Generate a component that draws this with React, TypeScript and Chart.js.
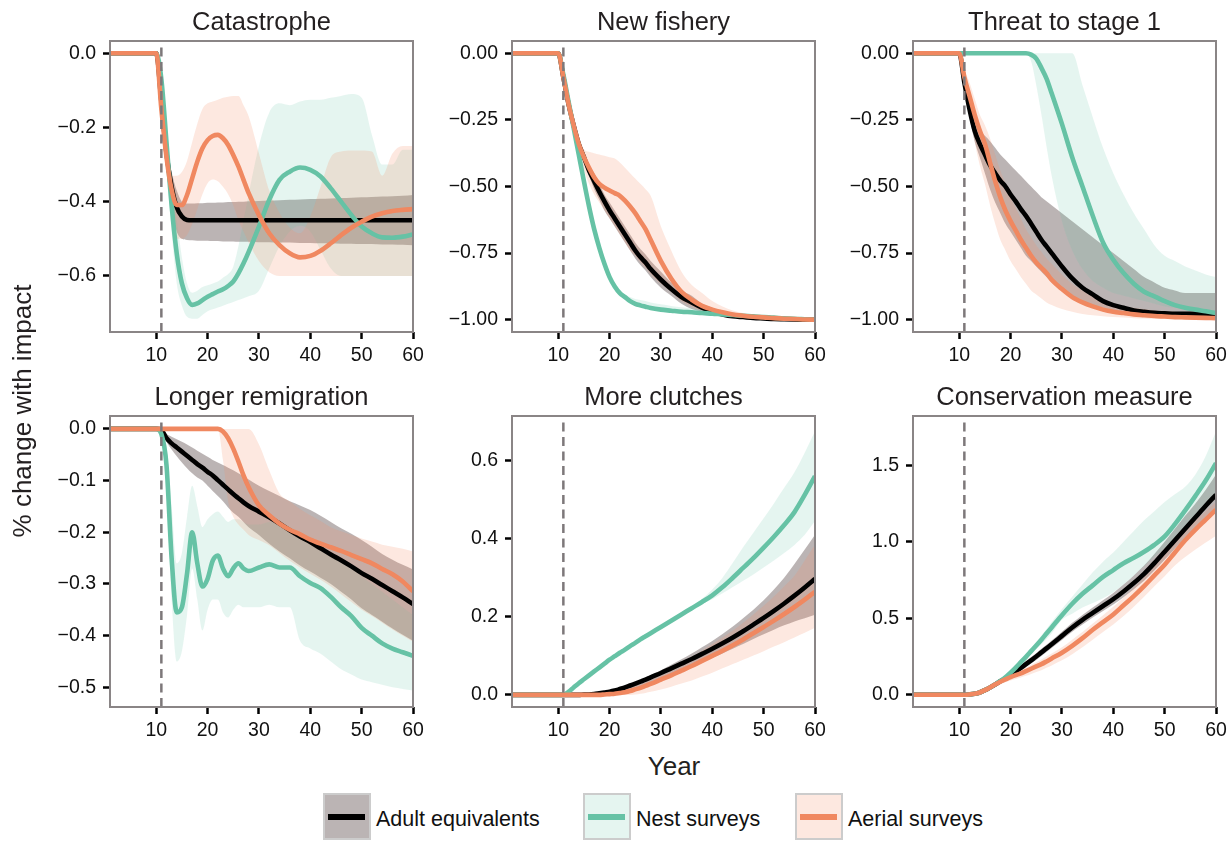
import React, { useEffect, useRef } from "react";
import { Chart, registerables } from "chart.js";

Chart.register(...registerables);

const FONT = '"Liberation Sans", Arial, Helvetica, sans-serif';

// ---------- shared axis data ----------
const YEARS = [1, 10,
  11, 12, 13, 14, 15, 16, 17, 18, 19,
  20, 21, 22, 23, 24, 25, 26, 27, 28,
  30, 32, 34, 36, 38, 40, 42, 44,
  46, 48, 50, 52, 54, 56, 58, 60];
const IMPACT_YEAR = 11;
const X_MIN = 1;
const X_MAX = 60;
const X_TICKS = [10, 20, 30, 40, 50, 60];

const TITLES = ["Catastrophe", "New fishery", "Threat to stage 1", "Longer remigration", "More clutches", "Conservation measure"];
const SERIES_NAMES = ["Adult equivalents", "Nest surveys", "Aerial surveys"];
const X_LABEL = "Year";
const Y_LABEL = "% change with impact";

const Y_TICKS_CAT = [-0.6, -0.4, -0.2, 0];
const Y_TICKS_FISH = [-1, -0.75, -0.5, -0.25, 0];
const Y_TICKS_THR = [-1, -0.75, -0.5, -0.25, 0];
const Y_TICKS_REM = [-0.5, -0.4, -0.3, -0.2, -0.1, 0];
const Y_TICKS_CLU = [0, 0.2, 0.4, 0.6];
const Y_TICKS_CON = [0, 0.5, 1, 1.5];

const Y_RANGE_CAT = [-0.751, 0.033];
const Y_RANGE_FISH = [-1.046, 0.046];
const Y_RANGE_THR = [-1.046, 0.046];
const Y_RANGE_REM = [-0.538, 0.025];
const Y_RANGE_CLU = [-0.031, 0.714];
const Y_RANGE_CON = [-0.08, 1.822];

// ---------- Catastrophe ----------
const CAT_ADULT = [0, 0,
  -0.13, -0.27, -0.36, -0.415, -0.44, -0.449, -0.45, -0.45, -0.45,
  -0.45, -0.45, -0.45, -0.45, -0.45, -0.45, -0.45, -0.45, -0.45,
  -0.45, -0.45, -0.45, -0.45, -0.45, -0.45, -0.45, -0.45,
  -0.45, -0.45, -0.45, -0.45, -0.45, -0.45, -0.45, -0.45];
const CAT_ADULT_LO = [0, 0,
  -0.14, -0.31, -0.42, -0.48, -0.5, -0.503, -0.504, -0.505, -0.505,
  -0.505, -0.506, -0.506, -0.507, -0.507, -0.507, -0.508, -0.508, -0.508,
  -0.509, -0.509, -0.51, -0.51, -0.511, -0.511, -0.512, -0.512,
  -0.513, -0.513, -0.514, -0.514, -0.515, -0.515, -0.516, -0.517];
const CAT_ADULT_HI = [0, 0,
  -0.11, -0.24, -0.32, -0.37, -0.4, -0.405, -0.405, -0.404, -0.404,
  -0.403, -0.403, -0.402, -0.402, -0.401, -0.401, -0.4, -0.4, -0.399,
  -0.398, -0.397, -0.396, -0.395, -0.394, -0.393, -0.392, -0.391,
  -0.39, -0.389, -0.388, -0.387, -0.386, -0.385, -0.384, -0.382];
const CAT_NEST = [0, 0,
  -0.07, -0.24, -0.41, -0.54, -0.62, -0.66, -0.678, -0.674, -0.665,
  -0.656, -0.649, -0.642, -0.636, -0.627, -0.615, -0.593, -0.566, -0.535,
  -0.467, -0.395, -0.341, -0.319, -0.308, -0.314, -0.332, -0.364,
  -0.4, -0.436, -0.467, -0.485, -0.496, -0.497, -0.494, -0.488];
const CAT_NEST_LO = [0, 0,
  -0.09, -0.3, -0.48, -0.62, -0.68, -0.71, -0.715, -0.715, -0.705,
  -0.695, -0.69, -0.685, -0.68, -0.675, -0.67, -0.665, -0.66, -0.655,
  -0.64, -0.58, -0.52, -0.48, -0.465, -0.48, -0.53, -0.58,
  -0.6, -0.6, -0.6, -0.6, -0.6, -0.6, -0.6, -0.6];
const CAT_NEST_HI = [0, 0,
  -0.05, -0.2, -0.36, -0.45, -0.55, -0.62, -0.645, -0.64, -0.63,
  -0.625, -0.62, -0.615, -0.605, -0.595, -0.575, -0.52, -0.45, -0.38,
  -0.25, -0.16, -0.135, -0.14, -0.13, -0.125, -0.125, -0.12,
  -0.115, -0.11, -0.12, -0.22, -0.3, -0.3, -0.26, -0.26];
const CAT_AER = [0, 0,
  -0.15, -0.28, -0.368, -0.409, -0.409, -0.382, -0.337, -0.292, -0.256,
  -0.234, -0.223, -0.22, -0.229, -0.247, -0.274, -0.305, -0.341, -0.377,
  -0.436, -0.485, -0.517, -0.539, -0.55, -0.546, -0.532, -0.512,
  -0.49, -0.47, -0.454, -0.44, -0.431, -0.425, -0.422, -0.42];
const CAT_AER_LO = [0, 0,
  -0.17, -0.31, -0.44, -0.5, -0.5, -0.49, -0.46, -0.42, -0.38,
  -0.35, -0.34, -0.345, -0.36, -0.38, -0.41, -0.45, -0.48, -0.51,
  -0.56, -0.59, -0.6, -0.6, -0.6, -0.6, -0.6, -0.6,
  -0.6, -0.6, -0.6, -0.6, -0.6, -0.6, -0.6, -0.6];
const CAT_AER_HI = [0, 0,
  -0.13, -0.25, -0.33, -0.33, -0.32, -0.29, -0.24, -0.19, -0.15,
  -0.135, -0.13, -0.125, -0.12, -0.117, -0.115, -0.115, -0.14, -0.17,
  -0.27, -0.37, -0.43, -0.47, -0.485, -0.44, -0.36, -0.28,
  -0.265, -0.262, -0.262, -0.265, -0.33, -0.27, -0.25, -0.25];

// ---------- New fishery ----------
const FISH_ADULT = [0, 0,
  -0.09, -0.19, -0.27, -0.34, -0.39, -0.44, -0.48, -0.52, -0.556,
  -0.59, -0.62, -0.65, -0.68, -0.71, -0.74, -0.765, -0.785, -0.81,
  -0.85, -0.885, -0.915, -0.935, -0.955, -0.97, -0.98, -0.987,
  -0.99, -0.993, -0.995, -0.997, -0.998, -0.999, -1, -1];
const FISH_ADULT_LO = [0, 0,
  -0.095, -0.2, -0.285, -0.36, -0.41, -0.46, -0.51, -0.55, -0.59,
  -0.62, -0.65, -0.68, -0.71, -0.74, -0.77, -0.795, -0.815, -0.84,
  -0.88, -0.91, -0.94, -0.96, -0.97, -0.985, -0.985, -0.992,
  -0.995, -0.997, -0.998, -0.999, -1, -1, -1, -1];
const FISH_ADULT_HI = [0, 0,
  -0.085, -0.18, -0.255, -0.32, -0.37, -0.42, -0.45, -0.49, -0.53,
  -0.56, -0.59, -0.62, -0.65, -0.68, -0.71, -0.735, -0.755, -0.78,
  -0.82, -0.86, -0.89, -0.91, -0.94, -0.955, -0.975, -0.982,
  -0.985, -0.989, -0.992, -0.995, -0.996, -0.998, -0.999, -1];
const FISH_NEST = [0, 0,
  -0.08, -0.18, -0.28, -0.38, -0.48, -0.575, -0.66, -0.73, -0.79,
  -0.84, -0.875, -0.9, -0.915, -0.93, -0.94, -0.946, -0.951, -0.956,
  -0.962, -0.966, -0.97, -0.972, -0.975, -0.977, -0.98, -0.982,
  -0.985, -0.987, -0.99, -0.992, -0.995, -0.996, -0.998, -1];
const FISH_NEST_LO = [0, 0,
  -0.085, -0.19, -0.29, -0.39, -0.49, -0.585, -0.67, -0.74, -0.8,
  -0.85, -0.883, -0.907, -0.921, -0.935, -0.945, -0.951, -0.956, -0.96,
  -0.966, -0.97, -0.973, -0.975, -0.978, -0.98, -0.983, -0.985,
  -0.988, -0.99, -0.992, -0.994, -0.997, -0.998, -0.999, -1];
const FISH_NEST_HI = [0, 0,
  -0.075, -0.17, -0.27, -0.37, -0.47, -0.565, -0.65, -0.72, -0.78,
  -0.83, -0.865, -0.89, -0.905, -0.915, -0.922, -0.926, -0.93, -0.935,
  -0.942, -0.948, -0.953, -0.957, -0.962, -0.966, -0.972, -0.976,
  -0.98, -0.983, -0.987, -0.99, -0.993, -0.995, -0.997, -0.999];
const FISH_AER = [0, 0,
  -0.09, -0.19, -0.27, -0.34, -0.39, -0.43, -0.465, -0.49, -0.504,
  -0.515, -0.525, -0.535, -0.553, -0.575, -0.6, -0.63, -0.66, -0.7,
  -0.78, -0.845, -0.895, -0.925, -0.948, -0.962, -0.972, -0.98,
  -0.985, -0.989, -0.991, -0.994, -0.996, -0.997, -0.999, -1];
const FISH_AER_LO = [0, 0,
  -0.1, -0.21, -0.3, -0.38, -0.44, -0.49, -0.53, -0.56, -0.59,
  -0.62, -0.65, -0.68, -0.71, -0.74, -0.76, -0.785, -0.805, -0.83,
  -0.865, -0.895, -0.93, -0.95, -0.965, -0.975, -0.985, -0.99,
  -0.993, -0.995, -0.997, -0.998, -0.999, -1, -1, -1];
const FISH_AER_HI = [0, 0,
  -0.08, -0.17, -0.25, -0.32, -0.36, -0.37, -0.375, -0.38, -0.385,
  -0.39, -0.395, -0.41, -0.43, -0.45, -0.47, -0.49, -0.51, -0.535,
  -0.65, -0.74, -0.82, -0.87, -0.9, -0.93, -0.95, -0.965,
  -0.975, -0.985, -0.99, -0.993, -0.995, -0.997, -0.998, -1];

// ---------- Threat to stage 1 ----------
const THR_ADULT = [0, 0,
  -0.11, -0.21, -0.29, -0.34, -0.38, -0.42, -0.45, -0.478, -0.5,
  -0.53, -0.556, -0.585, -0.61, -0.64, -0.67, -0.7, -0.725, -0.75,
  -0.8, -0.845, -0.88, -0.905, -0.93, -0.945, -0.955, -0.965,
  -0.97, -0.974, -0.976, -0.978, -0.978, -0.978, -0.978, -0.978];
const THR_ADULT_LO = [0, 0,
  -0.12, -0.24, -0.33, -0.39, -0.45, -0.51, -0.56, -0.6, -0.64,
  -0.67, -0.7, -0.73, -0.76, -0.78, -0.8, -0.82, -0.84, -0.86,
  -0.89, -0.91, -0.93, -0.945, -0.955, -0.965, -0.97, -0.975,
  -0.98, -0.985, -0.985, -0.987, -0.988, -0.988, -0.989, -0.99];
const THR_ADULT_HI = [0, 0,
  -0.1, -0.19, -0.26, -0.29, -0.31, -0.33, -0.355, -0.38, -0.4,
  -0.42, -0.44, -0.46, -0.48, -0.5, -0.52, -0.54, -0.555, -0.57,
  -0.6, -0.63, -0.66, -0.69, -0.72, -0.75, -0.78, -0.81,
  -0.84, -0.86, -0.88, -0.89, -0.9, -0.9, -0.9, -0.9];
const THR_NEST = [0, 0,
  0, 0, 0, 0, 0, 0, 0, 0, 0,
  0, 0, 0, 0, -0.005, -0.02, -0.055, -0.095, -0.15,
  -0.265, -0.39, -0.5, -0.61, -0.71, -0.775, -0.825, -0.865,
  -0.895, -0.912, -0.93, -0.945, -0.955, -0.962, -0.968, -0.975];
const THR_NEST_LO = [0, 0,
  0, 0, 0, 0, 0, 0, 0, 0, 0,
  0, 0, 0, 0, -0.03, -0.12, -0.23, -0.35, -0.46,
  -0.63, -0.74, -0.81, -0.855, -0.88, -0.9, -0.91, -0.92,
  -0.93, -0.94, -0.95, -0.955, -0.96, -0.968, -0.976, -0.985];
const THR_NEST_HI = [0, 0,
  0, 0, 0, 0, 0, 0, 0, 0, 0,
  0, 0, 0, 0, 0, 0, 0, 0, 0,
  0, 0, -0.12, -0.24, -0.355, -0.45, -0.53, -0.6,
  -0.66, -0.72, -0.76, -0.78, -0.8, -0.815, -0.83, -0.84];
const THR_AER = [0, 0,
  -0.09, -0.16, -0.23, -0.29, -0.34, -0.41, -0.48, -0.54, -0.59,
  -0.63, -0.665, -0.7, -0.73, -0.76, -0.785, -0.805, -0.825, -0.85,
  -0.885, -0.915, -0.935, -0.95, -0.962, -0.97, -0.975, -0.98,
  -0.983, -0.986, -0.988, -0.99, -0.991, -0.992, -0.993, -0.994];
const THR_AER_LO = [0, 0,
  -0.11, -0.2, -0.33, -0.42, -0.49, -0.57, -0.64, -0.7, -0.74,
  -0.78, -0.81, -0.84, -0.865, -0.89, -0.905, -0.92, -0.935, -0.945,
  -0.96, -0.97, -0.978, -0.983, -0.987, -0.99, -0.992, -0.994,
  -0.995, -0.996, -0.997, -0.998, -0.999, -1, -1, -1];
const THR_AER_HI = [0, 0,
  -0.06, -0.11, -0.17, -0.23, -0.27, -0.32, -0.38, -0.44, -0.49,
  -0.54, -0.58, -0.62, -0.66, -0.69, -0.72, -0.745, -0.77, -0.79,
  -0.83, -0.865, -0.89, -0.91, -0.925, -0.94, -0.95, -0.955,
  -0.96, -0.965, -0.968, -0.97, -0.972, -0.974, -0.976, -0.978];

// ---------- Longer remigration ----------
const REM_ADULT = [0, 0,
  -0.002, -0.018, -0.028, -0.036, -0.044, -0.052, -0.06, -0.068, -0.075,
  -0.083, -0.09, -0.099, -0.108, -0.117, -0.126, -0.134, -0.142, -0.149,
  -0.16, -0.171, -0.183, -0.196, -0.208, -0.219, -0.231, -0.243,
  -0.254, -0.266, -0.279, -0.29, -0.302, -0.314, -0.326, -0.339];
const REM_ADULT_LO = [0, 0,
  -0.003, -0.025, -0.04, -0.053, -0.065, -0.076, -0.086, -0.094, -0.1,
  -0.11, -0.12, -0.13, -0.14, -0.152, -0.162, -0.17, -0.18, -0.19,
  -0.205, -0.222, -0.237, -0.25, -0.264, -0.276, -0.288, -0.3,
  -0.315, -0.33, -0.347, -0.36, -0.373, -0.386, -0.398, -0.41];
const REM_ADULT_HI = [0, 0,
  0, -0.01, -0.015, -0.02, -0.025, -0.03, -0.036, -0.042, -0.048,
  -0.054, -0.06, -0.065, -0.07, -0.075, -0.08, -0.086, -0.092, -0.098,
  -0.11, -0.12, -0.13, -0.14, -0.148, -0.157, -0.168, -0.18,
  -0.192, -0.203, -0.215, -0.228, -0.242, -0.253, -0.263, -0.272];
const REM_NEST = [0, 0,
  -0.01, -0.07, -0.25, -0.355, -0.345, -0.28, -0.2, -0.26, -0.305,
  -0.29, -0.255, -0.245, -0.27, -0.285, -0.27, -0.26, -0.27, -0.275,
  -0.268, -0.262, -0.268, -0.268, -0.285, -0.298, -0.308, -0.325,
  -0.345, -0.362, -0.385, -0.4, -0.415, -0.425, -0.432, -0.439];
const REM_NEST_LO = [0, 0,
  -0.015, -0.12, -0.33, -0.45, -0.43, -0.36, -0.27, -0.33, -0.39,
  -0.35, -0.33, -0.33, -0.355, -0.365, -0.35, -0.34, -0.345, -0.345,
  -0.345, -0.34, -0.345, -0.345, -0.41, -0.425, -0.435, -0.45,
  -0.465, -0.475, -0.485, -0.49, -0.495, -0.5, -0.503, -0.506];
const REM_NEST_HI = [0, 0,
  0, -0.05, -0.15, -0.26, -0.24, -0.17, -0.11, -0.15, -0.19,
  -0.175, -0.165, -0.16, -0.17, -0.18, -0.175, -0.175, -0.18, -0.185,
  -0.185, -0.18, -0.185, -0.19, -0.2, -0.215, -0.225, -0.24,
  -0.255, -0.27, -0.285, -0.3, -0.315, -0.33, -0.345, -0.36];
const REM_AER = [0, 0,
  0, 0, 0, 0, 0, 0, 0, 0, 0,
  0, 0, 0, -0.005, -0.018, -0.038, -0.063, -0.09, -0.113,
  -0.148, -0.167, -0.183, -0.195, -0.204, -0.214, -0.222, -0.229,
  -0.236, -0.244, -0.252, -0.26, -0.271, -0.281, -0.295, -0.314];
const REM_AER_LO = [0, 0,
  0, 0, 0, 0, 0, 0, 0, 0, 0,
  0, 0, 0, -0.06, -0.14, -0.17, -0.185, -0.195, -0.205,
  -0.215, -0.225, -0.24, -0.255, -0.268, -0.28, -0.292, -0.305,
  -0.32, -0.335, -0.35, -0.362, -0.375, -0.388, -0.4, -0.412];
const REM_AER_HI = [0, 0,
  0, 0, 0, 0, 0, 0, 0, 0, 0,
  0, 0, 0, 0, 0, 0, 0, 0, 0,
  -0.03, -0.08, -0.125, -0.14, -0.155, -0.167, -0.178, -0.19,
  -0.198, -0.205, -0.212, -0.218, -0.224, -0.228, -0.232, -0.237];

// ---------- More clutches ----------
const CLU_ADULT = [0, 0,
  0, 0, 0, 0, 0.001, 0.001, 0.002, 0.004, 0.006,
  0.008, 0.011, 0.015, 0.019, 0.024, 0.029, 0.034, 0.039, 0.045,
  0.056, 0.068, 0.08, 0.092, 0.105, 0.118, 0.132, 0.147,
  0.163, 0.18, 0.197, 0.215, 0.234, 0.254, 0.275, 0.297];
const CLU_ADULT_LO = [0, 0,
  0, 0, 0, 0, 0, 0, 0.001, 0.002, 0.003,
  0.004, 0.006, 0.008, 0.01, 0.014, 0.017, 0.021, 0.026, 0.03,
  0.043, 0.053, 0.063, 0.073, 0.084, 0.095, 0.106, 0.118,
  0.13, 0.143, 0.155, 0.167, 0.178, 0.188, 0.196, 0.205];
const CLU_ADULT_HI = [0, 0,
  0, 0, 0, 0.001, 0.002, 0.003, 0.004, 0.006, 0.008,
  0.01, 0.014, 0.018, 0.022, 0.027, 0.032, 0.038, 0.044, 0.05,
  0.063, 0.077, 0.091, 0.106, 0.122, 0.138, 0.156, 0.175,
  0.196, 0.218, 0.242, 0.27, 0.3, 0.335, 0.372, 0.41];
const CLU_NEST = [0, 0,
  0, 0.008, 0.019, 0.03, 0.04, 0.05, 0.06, 0.07, 0.08,
  0.09, 0.099, 0.108, 0.116, 0.125, 0.133, 0.142, 0.15, 0.158,
  0.174, 0.19, 0.206, 0.222, 0.238, 0.255, 0.276, 0.3,
  0.325, 0.35, 0.377, 0.405, 0.435, 0.468, 0.512, 0.56];
const CLU_NEST_LO = [0, 0,
  0, 0.005, 0.016, 0.027, 0.037, 0.047, 0.057, 0.067, 0.077,
  0.087, 0.096, 0.105, 0.113, 0.122, 0.13, 0.139, 0.147, 0.155,
  0.171, 0.187, 0.203, 0.219, 0.233, 0.245, 0.26, 0.276,
  0.292, 0.308, 0.326, 0.344, 0.363, 0.384, 0.41, 0.445];
const CLU_NEST_HI = [0, 0,
  0, 0.011, 0.022, 0.033, 0.043, 0.053, 0.063, 0.073, 0.083,
  0.093, 0.102, 0.111, 0.119, 0.128, 0.136, 0.145, 0.153, 0.161,
  0.177, 0.193, 0.209, 0.226, 0.246, 0.27, 0.3, 0.338,
  0.378, 0.415, 0.452, 0.49, 0.53, 0.57, 0.62, 0.675];
const CLU_AER = [0, 0,
  0, 0, 0, 0, 0, 0, 0, 0, 0.001,
  0.002, 0.003, 0.005, 0.007, 0.01, 0.014, 0.018, 0.023, 0.028,
  0.039, 0.05, 0.062, 0.074, 0.087, 0.1, 0.113, 0.127,
  0.142, 0.158, 0.174, 0.19, 0.207, 0.225, 0.244, 0.264];
const CLU_AER_LO = [0, 0,
  0, 0, 0, 0, 0, 0, 0, 0, 0,
  0, 0, 0, 0, 0, 0.001, 0.003, 0.005, 0.008,
  0.014, 0.021, 0.029, 0.037, 0.047, 0.057, 0.068, 0.079,
  0.09, 0.101, 0.112, 0.124, 0.135, 0.147, 0.159, 0.172];
const CLU_AER_HI = [0, 0,
  0, 0, 0, 0, 0, 0.001, 0.002, 0.003, 0.004,
  0.006, 0.009, 0.012, 0.016, 0.02, 0.025, 0.03, 0.036, 0.042,
  0.055, 0.068, 0.082, 0.097, 0.113, 0.13, 0.147, 0.165,
  0.185, 0.206, 0.228, 0.252, 0.278, 0.305, 0.344, 0.385];

// ---------- Conservation measure ----------
const CON_ADULT = [0, 0,
  0, 0.002, 0.006, 0.015, 0.03, 0.048, 0.067, 0.088, 0.108,
  0.13, 0.152, 0.175, 0.2, 0.225, 0.25, 0.277, 0.303, 0.33,
  0.385, 0.44, 0.49, 0.535, 0.58, 0.625, 0.675, 0.73,
  0.79, 0.86, 0.935, 1.01, 1.085, 1.16, 1.235, 1.307];
const CON_ADULT_LO = [0, 0,
  0, 0.001, 0.004, 0.012, 0.026, 0.043, 0.06, 0.079, 0.097,
  0.117, 0.137, 0.157, 0.18, 0.204, 0.228, 0.254, 0.279, 0.305,
  0.358, 0.412, 0.46, 0.505, 0.548, 0.59, 0.638, 0.69,
  0.745, 0.812, 0.882, 0.955, 1.025, 1.09, 1.16, 1.225];
const CON_ADULT_HI = [0, 0,
  0, 0.003, 0.008, 0.018, 0.034, 0.053, 0.074, 0.097, 0.119,
  0.143, 0.167, 0.193, 0.22, 0.246, 0.272, 0.3, 0.327, 0.355,
  0.412, 0.47, 0.522, 0.57, 0.618, 0.665, 0.72, 0.78,
  0.845, 0.92, 1.0, 1.085, 1.17, 1.25, 1.34, 1.44];
const CON_NEST = [0, 0,
  0, 0.002, 0.006, 0.015, 0.03, 0.048, 0.068, 0.09, 0.115,
  0.145, 0.178, 0.213, 0.248, 0.285, 0.322, 0.36, 0.4, 0.44,
  0.52, 0.595, 0.66, 0.715, 0.77, 0.815, 0.86, 0.895,
  0.935, 0.98, 1.035, 1.115, 1.205, 1.3, 1.4, 1.513];
const CON_NEST_LO = [0, 0,
  0, 0.001, 0.005, 0.013, 0.027, 0.044, 0.063, 0.084, 0.107,
  0.135, 0.165, 0.197, 0.23, 0.263, 0.297, 0.33, 0.365, 0.4,
  0.49, 0.53, 0.57, 0.6, 0.63, 0.67, 0.72, 0.78,
  0.84, 0.9, 0.96, 1.02, 1.09, 1.16, 1.23, 1.3];
const CON_NEST_HI = [0, 0,
  0, 0.003, 0.008, 0.017, 0.033, 0.052, 0.073, 0.096, 0.123,
  0.155, 0.19, 0.227, 0.265, 0.305, 0.345, 0.387, 0.43, 0.475,
  0.56, 0.64, 0.72, 0.8, 0.87, 0.93, 1.0, 1.07,
  1.14, 1.2, 1.26, 1.31, 1.36, 1.44, 1.56, 1.72];
const CON_AER = [0, 0,
  0, 0.002, 0.006, 0.015, 0.03, 0.048, 0.067, 0.085, 0.1,
  0.115, 0.128, 0.14, 0.155, 0.17, 0.185, 0.2, 0.218, 0.237,
  0.275, 0.32, 0.37, 0.425, 0.475, 0.525, 0.585, 0.645,
  0.71, 0.78, 0.85, 0.93, 1.01, 1.08, 1.145, 1.21];
const CON_AER_LO = [0, 0,
  0, 0.001, 0.004, 0.012, 0.025, 0.04, 0.056, 0.07, 0.082,
  0.093, 0.103, 0.113, 0.124, 0.136, 0.148, 0.161, 0.176, 0.192,
  0.225, 0.265, 0.31, 0.36, 0.41, 0.46, 0.515, 0.575,
  0.64, 0.71, 0.775, 0.845, 0.9, 0.95, 0.995, 1.04];
const CON_AER_HI = [0, 0,
  0, 0.003, 0.008, 0.018, 0.034, 0.054, 0.075, 0.096, 0.113,
  0.13, 0.145, 0.16, 0.177, 0.195, 0.212, 0.23, 0.25, 0.27,
  0.31, 0.36, 0.41, 0.465, 0.52, 0.575, 0.635, 0.7,
  0.77, 0.84, 0.915, 0.995, 1.07, 1.14, 1.2, 1.26];

// ---------- styling ----------
const ADULT_LINE = "#000000";
const NEST_LINE = "rgb(102,194,165)";
const AER_LINE = "rgb(240,136,96)";
const ADULT_BAND = "rgba(100,85,85,0.44)";
const NEST_BAND = "rgba(102,194,165,0.17)";
const AER_BAND = "rgba(246,140,98,0.2)";
const FRAME = "rgb(138,133,134)";
const DASH = "rgb(125,120,122)";
const TEXT = "#231f20";

const PLOT_LEFTS = [110, 512, 913];
const PLOT_TOPS = [41, 416];
const PLOT_W = 303;
const PLOT_H = 291;
const Y_AXIS_W = 100;
const X_AXIS_H = 40;
const TITLE_H = 40;
const RIGHT_PAD = 18;
const TITLE_SIZE = 25.5;
const TICK_SIZE = 19.5;
const LABEL_SIZE = 26;
const LINE_W = 4.6;

type Spec = {
  title: string;
  range: number[];
  ticks: number[];
  dec: number;
  s: number[][]; // adult, adultLo, adultHi, nest, nestLo, nestHi, aer, aerLo, aerHi
};

const PANELS: Spec[] = [
  { title: TITLES[0], range: Y_RANGE_CAT, ticks: Y_TICKS_CAT, dec: 1,
    s: [CAT_ADULT, CAT_ADULT_LO, CAT_ADULT_HI, CAT_NEST, CAT_NEST_LO, CAT_NEST_HI, CAT_AER, CAT_AER_LO, CAT_AER_HI] },
  { title: TITLES[1], range: Y_RANGE_FISH, ticks: Y_TICKS_FISH, dec: 2,
    s: [FISH_ADULT, FISH_ADULT_LO, FISH_ADULT_HI, FISH_NEST, FISH_NEST_LO, FISH_NEST_HI, FISH_AER, FISH_AER_LO, FISH_AER_HI] },
  { title: TITLES[2], range: Y_RANGE_THR, ticks: Y_TICKS_THR, dec: 2,
    s: [THR_ADULT, THR_ADULT_LO, THR_ADULT_HI, THR_NEST, THR_NEST_LO, THR_NEST_HI, THR_AER, THR_AER_LO, THR_AER_HI] },
  { title: TITLES[3], range: Y_RANGE_REM, ticks: Y_TICKS_REM, dec: 1,
    s: [REM_ADULT, REM_ADULT_LO, REM_ADULT_HI, REM_NEST, REM_NEST_LO, REM_NEST_HI, REM_AER, REM_AER_LO, REM_AER_HI] },
  { title: TITLES[4], range: Y_RANGE_CLU, ticks: Y_TICKS_CLU, dec: 1,
    s: [CLU_ADULT, CLU_ADULT_LO, CLU_ADULT_HI, CLU_NEST, CLU_NEST_LO, CLU_NEST_HI, CLU_AER, CLU_AER_LO, CLU_AER_HI] },
  { title: TITLES[5], range: Y_RANGE_CON, ticks: Y_TICKS_CON, dec: 1,
    s: [CON_ADULT, CON_ADULT_LO, CON_ADULT_HI, CON_NEST, CON_NEST_LO, CON_NEST_HI, CON_AER, CON_AER_LO, CON_AER_HI] },
];

const fmt = (v: number, dec: number) => {
  const s = Math.abs(v).toFixed(dec);
  return v < -1e-9 ? "\u2212" + s : s;
};

const framePlugin = {
  id: "frame",
  afterDatasetsDraw(chart: any) {
    const { ctx, chartArea: a } = chart;
    ctx.save();
    ctx.strokeStyle = FRAME;
    ctx.lineWidth = 2;
    ctx.strokeRect(a.left, a.top, a.right - a.left, a.bottom - a.top);
    ctx.restore();
  },
};

function Panel({ spec, left, top }: { spec: Spec; left: number; top: number }) {
  const ref = useRef<HTMLCanvasElement>(null);
  const W = Y_AXIS_W + PLOT_W + RIGHT_PAD;
  const H = TITLE_H + PLOT_H + X_AXIS_H;

  useEffect(() => {
    if (!ref.current) return;
    const pts = (arr: number[]) => arr.map((y, i) => ({ x: YEARS[i], y }));
    const common = {
      pointRadius: 0,
      pointHoverRadius: 0,
      cubicInterpolationMode: "monotone" as const,
      clip: 0,
    };
    const band = (lo: number[], hi: number[], color: string, order: number) => [
      { ...common, data: pts(lo), borderWidth: 0, borderColor: "rgba(0,0,0,0)", fill: false, order },
      { ...common, data: pts(hi), borderWidth: 0, borderColor: "rgba(0,0,0,0)", backgroundColor: color, fill: "-1", order },
    ];
    const line = (arr: number[], color: string, order: number) => ({
      ...common, data: pts(arr), borderColor: color, borderWidth: LINE_W, fill: false, order,
      borderCapStyle: "butt" as const, borderJoinStyle: "round" as const,
    });
    const [yMin, yMax] = spec.range;
    const s = spec.s;
    const datasets: any[] = [
      ...band(s[1], s[2], ADULT_BAND, 9),
      ...band(s[4], s[5], NEST_BAND, 8),
      ...band(s[7], s[8], AER_BAND, 7),
      line(s[0], ADULT_LINE, 3),
      line(s[3], NEST_LINE, 2),
      line(s[6], AER_LINE, 1),
      {
        data: [{ x: IMPACT_YEAR, y: yMin }, { x: IMPACT_YEAR, y: yMax }],
        borderColor: DASH, borderWidth: 2.5, borderDash: [9, 5.5], pointRadius: 0, fill: false,
        order: 0, clip: 0, tension: 0,
      },
    ];

    const chart = new Chart(ref.current, {
      type: "line",
      data: { datasets },
      plugins: [framePlugin],
      options: {
        animation: false,
        responsive: false,
        devicePixelRatio: 1,
        events: [],
        layout: { padding: { left: 0, right: RIGHT_PAD, top: 0, bottom: 0 } },
        plugins: {
          legend: { display: false },
          tooltip: { enabled: false },
          title: {
            display: true,
            text: spec.title,
            fullSize: false,
            color: TEXT,
            font: { family: FONT, size: TITLE_SIZE, weight: "normal" },
            padding: { top: 7, bottom: TITLE_H - 7 - TITLE_SIZE * 1.2 },
          },
        },
        scales: {
          x: {
            type: "linear",
            min: X_MIN,
            max: X_MAX,
            afterBuildTicks: (sc: any) => { sc.ticks = X_TICKS.map((v) => ({ value: v })); },
            afterFit: (sc: any) => { sc.height = X_AXIS_H; },
            border: { display: false },
            grid: { display: true, drawOnChartArea: false, drawTicks: true, tickLength: 7, tickWidth: 2.5, tickColor: "#000" },
            ticks: {
              color: "#111",
              font: { family: FONT, size: TICK_SIZE },
              padding: 5,
              maxRotation: 0,
              autoSkip: false,
              callback: (v: any) => String(v),
            },
          },
          y: {
            type: "linear",
            min: yMin,
            max: yMax,
            afterBuildTicks: (sc: any) => { sc.ticks = spec.ticks.map((v) => ({ value: v })); },
            afterFit: (sc: any) => { sc.width = Y_AXIS_W; },
            border: { display: false },
            grid: { display: true, drawOnChartArea: false, drawTicks: true, tickLength: 7, tickWidth: 2.5, tickColor: "#000" },
            ticks: {
              color: "#111",
              font: { family: FONT, size: TICK_SIZE },
              padding: 7,
              autoSkip: false,
              callback: (v: any) => fmt(Number(v), spec.dec),
            },
          },
        },
      } as any,
    });
    return () => chart.destroy();
  }, [spec]);

  return (
    <canvas
      ref={ref}
      width={W}
      height={H}
      style={{ position: "absolute", left, top, width: W, height: H }}
    />
  );
}

const LEGEND_ITEMS = [
  { name: SERIES_NAMES[0], band: ADULT_BAND, line: ADULT_LINE, left: 323 },
  { name: SERIES_NAMES[1], band: NEST_BAND, line: NEST_LINE, left: 583 },
  { name: SERIES_NAMES[2], band: AER_BAND, line: AER_LINE, left: 795 },
];

export default function App() {
  return (
    <div
      style={{
        position: "absolute", left: 0, top: 0, width: 1232, height: 841,
        overflow: "hidden", background: "#fff", fontFamily: FONT, color: TEXT,
      }}
    >
      {PANELS.map((p, i) => (
        <Panel
          key={i}
          spec={p}
          left={PLOT_LEFTS[i % 3] - Y_AXIS_W}
          top={PLOT_TOPS[Math.floor(i / 3)] - TITLE_H}
        />
      ))}
      <div
        style={{
          position: "absolute", left: 22 - 160, top: 411 - 16, width: 320, height: 32,
          lineHeight: "32px", textAlign: "center", fontSize: LABEL_SIZE, transform: "rotate(-90deg)",
          whiteSpace: "nowrap",
        }}
      >
        {Y_LABEL}
      </div>
      <div
        style={{
          position: "absolute", left: 674 - 60, top: 766 - 16, width: 120, height: 32,
          lineHeight: "32px", textAlign: "center", fontSize: LABEL_SIZE, whiteSpace: "nowrap",
        }}
      >
        {X_LABEL}
      </div>
      {LEGEND_ITEMS.map((it) => (
        <React.Fragment key={it.name}>
          <div
            style={{
              position: "absolute", left: it.left, top: 793, width: 48, height: 47,
              boxSizing: "border-box", border: "2.5px solid rgb(204,204,204)", background: "#fff",
            }}
          >
            <div style={{ position: "absolute", inset: 0, background: it.band }} />
            <div
              style={{
                position: "absolute", left: 3, width: 37, top: 19, height: 6, background: it.line,
              }}
            />
          </div>
          <div
            style={{
              position: "absolute", left: it.left + 53, top: 804, height: 30, lineHeight: "30px",
              fontSize: 21.5, whiteSpace: "nowrap", color: "#111",
            }}
          >
            {it.name}
          </div>
        </React.Fragment>
      ))}
    </div>
  );
}
